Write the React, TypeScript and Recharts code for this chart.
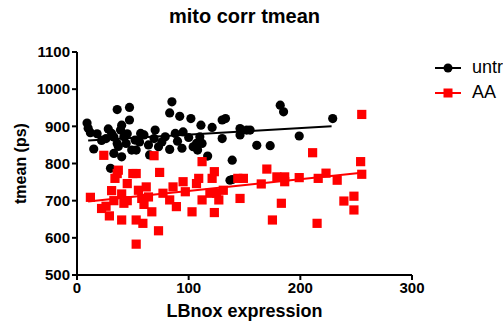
import {
  ReferenceLine,
  Scatter,
  ScatterChart,
  XAxis,
  YAxis,
} from 'recharts'

const FONT = 'Arial, "Liberation Sans", sans-serif'
const INK = '#000000'
const RED = '#ff0000'

// untr (black circles) — LBnox expression vs tmean (ps)
const untrX = [
  9, 10, 12, 15, 18, 22, 26, 28, 30, 31, 33, 33, 36, 36, 37, 39, 40, 40, 42, 44, 45,
  47, 47, 49, 52, 53, 56, 57, 60, 64, 65, 69, 70, 73, 76, 79, 83, 83, 85, 88, 90, 92,
  94, 95, 100, 102, 104, 107, 108, 110, 111, 112, 117, 121, 130, 130, 133, 137, 139,
  139, 146, 146, 152, 155, 161, 173, 182, 185, 199, 229,
]
const untrY = [
  909, 895, 883, 839, 880, 862, 867, 893, 787, 881, 871, 827, 945, 854, 846, 890, 818,
  903, 872, 854, 880, 951, 917, 836, 863, 836, 858, 881, 877, 850, 823, 867, 890, 845,
  858, 872, 838, 936, 966, 881, 860, 927, 841, 885, 870, 921, 845, 854, 836, 872, 903,
  854, 820, 897, 867, 917, 921, 755, 809, 757, 894, 877, 890, 890, 849, 848, 957, 939,
  874, 921,
]

// AA (red squares)
const aaX = [
  12, 22, 24, 26, 29, 31, 33, 34, 36, 37, 40, 40, 42, 45, 45, 50, 53, 53, 53, 55, 58,
  59, 60, 62, 64, 67, 69, 73, 74, 77, 83, 86, 89, 95, 97, 103, 107, 109, 112, 112, 119,
  121, 123, 123, 125, 127, 131, 144, 146, 149, 165, 170, 175, 179, 183, 186, 186, 199,
  211, 215, 216, 223, 233, 239, 248, 248, 254, 255, 255,
]
const aaY = [
  709, 679, 822, 685, 659, 727, 700, 760, 773, 782, 648, 718, 693, 746, 700, 773, 773,
  648, 583, 728, 706, 639, 690, 737, 710, 670, 821, 619, 776, 720, 702, 737, 684, 751,
  724, 670, 746, 760, 702, 805, 720, 760, 778, 668, 720, 702, 728, 760, 706, 760, 745,
  785, 648, 764, 693, 764, 751, 762, 829, 639, 760, 774, 755, 699, 712, 675, 805, 932,
  771,
]

// linear fits, drawn between these x values
const untrFitX = [10, 228]
const untrFitY = [862, 900]
const aaFitX = [10, 255]
const aaFitY = [698, 775]

const xTicks = [0, 100, 200, 300]
const yTicks = [500, 600, 700, 800, 900, 1000, 1100]

const untr = untrX.map((x, i) => ({ x, y: untrY[i] }))
const aa = aaX.map((x, i) => ({ x, y: aaY[i] }))

const Dot = (p: any) => <circle cx={p.cx} cy={p.cy} r={4.6} fill={INK} />
const Sq = (p: any) => (
  <rect x={p.cx - 4.6} y={p.cy - 4.6} width={9.2} height={9.2} fill={RED} />
)

function LegendBox() {
  const rows = [
    { name: 'untr', color: INK, sq: false },
    { name: 'AA', color: RED, sq: true },
  ]
  return (
    <div style={{ position: 'absolute', left: 433, top: 55, fontFamily: FONT, fontSize: 18 }}>
      {rows.map((r) => (
        <div key={r.name} style={{ display: 'flex', alignItems: 'center', height: 25 }}>
          <svg width={32} height={12} style={{ marginRight: 7 }}>
            <line x1={2} x2={28} y1={6} y2={6} stroke={r.color} strokeWidth={2} />
            {r.sq ? (
              <rect x={10.5} y={1.5} width={9} height={9} fill={r.color} />
            ) : (
              <circle cx={15} cy={6} r={4.5} fill={r.color} />
            )}
          </svg>
          <span style={{ color: '#000', whiteSpace: 'nowrap' }}>{r.name}</span>
        </div>
      ))}
    </div>
  )
}

export default function App() {
  return (
    <div style={{ position: 'absolute', left: 0, top: 0, width: 503, height: 328, overflow: 'hidden', background: '#fff' }}>
      <div
        style={{
          position: 'absolute',
          top: 5,
          left: 77,
          width: 335,
          textAlign: 'center',
          fontFamily: FONT,
          fontWeight: 'bold',
          fontSize: 20,
          color: '#000',
        }}
      >
        mito corr tmean
      </div>
      <LegendBox />
      <ScatterChart width={503} height={328} margin={{ top: 52, right: 91, bottom: 3, left: 0 }}>
        <XAxis
          type="number"
          dataKey="x"
          domain={[0, 300]}
          ticks={xTicks}
          stroke={INK}
          strokeWidth={2}
          tickSize={5}
          tick={{ fill: INK, fontSize: 15, fontWeight: 'bold', fontFamily: FONT }}
          height={50}
          label={(props: any) => {
            const vb = props.viewBox
            return (
              <text
                x={vb.x + vb.width / 2}
                y={vb.y + 42}
                textAnchor="middle"
                fontFamily={FONT}
                fontWeight="bold"
                fontSize={18}
                fill={INK}
              >
                LBnox expression
              </text>
            )
          }}
        />
        <YAxis
          type="number"
          dataKey="y"
          domain={[500, 1100]}
          ticks={yTicks}
          stroke={INK}
          strokeWidth={2}
          tickSize={5}
          width={77}
          tick={{ fill: INK, fontSize: 15, fontWeight: 'bold', fontFamily: FONT }}
          label={(props: any) => {
            const vb = props.viewBox
            const cy = vb.y + vb.height / 2
            return (
              <text
                x={20}
                y={cy}
                transform={`rotate(-90, 20, ${cy})`}
                textAnchor="middle"
                dominantBaseline="central"
                fontFamily={FONT}
                fontWeight="bold"
                fontSize={16}
                fill={INK}
              >
                tmean (ps)
              </text>
            )
          }}
        />
        <Scatter name="untr" data={untr} shape={Dot} isAnimationActive={false} />
        <Scatter name="AA" data={aa} shape={Sq} isAnimationActive={false} />
        <ReferenceLine
          segment={[
            { x: untrFitX[0], y: untrFitY[0] },
            { x: untrFitX[1], y: untrFitY[1] },
          ]}
          stroke={INK}
          strokeWidth={2}
        />
        <ReferenceLine
          segment={[
            { x: aaFitX[0], y: aaFitY[0] },
            { x: aaFitX[1], y: aaFitY[1] },
          ]}
          stroke={RED}
          strokeWidth={2}
        />
      </ScatterChart>
    </div>
  )
}
